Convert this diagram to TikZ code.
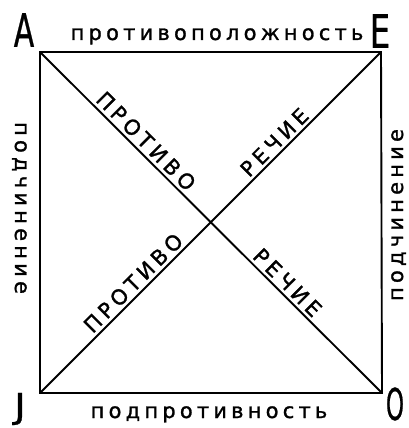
\documentclass[tikz,border=0pt]{standalone}
\usepackage{fontspec,graphicx}
\usetikzlibrary{positioning}
\newfontfamily\handfont[LetterSpace=20,FakeBold=1.2]{DejaVu Sans}
\newfontfamily\capfont[FakeBold=0.8]{DejaVu Sans}
\tikzset{side/.style={line width=1.9pt},
 word/.style={font=\handfont\fontsize{21}{21}\selectfont,inner sep=0pt,anchor=base},
 diag/.style={font=\handfont\fontsize{21}{21}\selectfont,sloped,above=3pt,inner sep=0pt},
 corner/.style={font=\capfont\fontsize{46}{46}\selectfont,inner sep=0pt}}
\begin{document}
\begin{tikzpicture}[x=1pt,y=-1pt]
\useasboundingbox (0,0) rectangle (409,428);
\coordinate (a) at (40,52);
\coordinate (e) at (381,52);
\coordinate (i) at (40,393);
\coordinate (o) at (382,393);
\node[corner] (la) at (24,30) {\scalebox{0.65}[1]{A}};
\node[corner] (le) at (380,31) {\scalebox{0.7}[1]{E}};
\node[corner] (li) at (20,409) {\scalebox{0.85}[0.75]{J}};
\node[corner] (lo) at (395,404) {\scalebox{0.5}[0.95]{O}};
\node[word] (top) at (217,40) {противоположность};
\node[word] (bot) at (209,418) {подпротивность};
\node[word,rotate=-90] (lft) at (15,208) {подчинение};
\node[word,rotate=90] (rgt) at (403,215) {подчинение};
\draw[side] (a) -- (e) -- (o) -- (i) -- cycle;
\draw[side] (a) -- node[diag,pos=.286] (d1) {ПРОТИВО} node[diag,pos=.70] (d2) {РЕЧИЕ} (o);
\draw[side] (i) -- node[diag,pos=.298] (d3) {ПРОТИВО} node[diag,pos=.711] (d4) {РЕЧИЕ} (e);
\end{tikzpicture}
\end{document}
